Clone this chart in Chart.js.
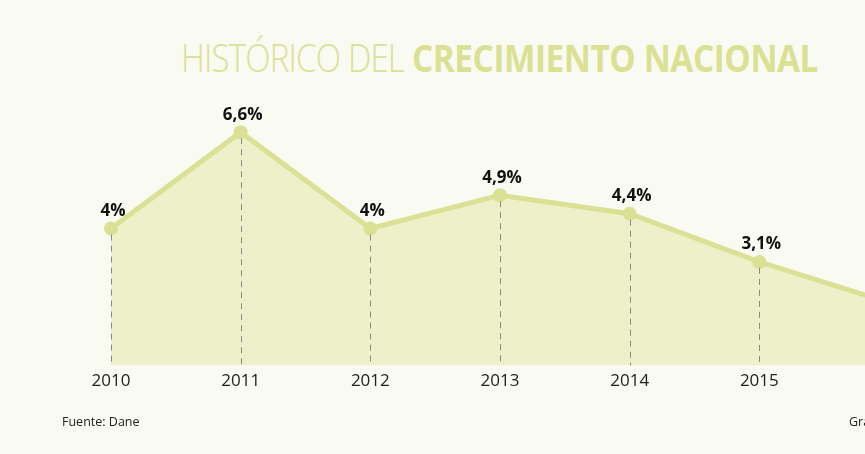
<!DOCTYPE html>
<html lang="es">
<head>
    <meta charset="UTF-8">
    <title>Histórico del crecimiento nacional</title>
    <style>
        body {
            margin: 0;
            width: 865px;
            height: 454px;
            overflow: hidden;
            background-color: #f9faf2;
            font-family: "Open Sans", sans-serif;
            position: relative;
        }
        .title {
            position: absolute;
            top: 31px;
            font-size: 38px;
            color: #dbe192;
            white-space: nowrap;
            transform-origin: left top;
        }
        .light { left: 181px; font-weight: 300; letter-spacing: -1px; }
        .bold { left: 412px; font-weight: 700; letter-spacing: -0.5px; }
        .chart-box {
            position: absolute;
            left: 0;
            top: 0;
            width: 1000px;
            height: 454px;
        }
        .note {
            position: absolute;
            top: 413px;
            font-size: 12.5px;
            color: #222;
            white-space: nowrap;
        }
    </style>
</head>
<body>
    <div class="title light" data-w="223">HISTÓRICO DEL</div>
    <div class="title bold" data-w="406">CRECIMIENTO NACIONAL</div>
    <div class="chart-box"><canvas id="growthChart"></canvas></div>
    <div class="note" style="left:62px">Fuente: Dane</div>
    <div class="note" style="left:849px">Gráfico: LR</div>

    <script src="https://cdn.jsdelivr.net/npm/chart.js"></script>
    <script>
        const years = ['2010', '2011', '2012', '2013', '2014', '2015', '2016'];
        const growth = [4, 6.6, 4, 4.9, 4.4, 3.1, 2.0];
        const valueLabels = ['4%', '6,6%', '4%', '4,9%', '4,4%', '3,1%', '2%'];

        const lineGreen = '#dbe194';
        const fillGreen = '#eef0c9';

        // squeeze the title pieces to the widths of the original lettering
        document.querySelectorAll('.title').forEach(el => {
            const w = el.getBoundingClientRect().width;
            el.style.transform = 'scaleX(' + (el.dataset.w / w) + ')';
        });

        // dashed drop lines and value labels on each point
        const pointExtras = {
            id: 'pointExtras',
            afterDatasetsDraw(chart) {
                const ctx = chart.ctx;
                const meta = chart.getDatasetMeta(0);
                const bottom = chart.chartArea.bottom;
                ctx.save();
                ctx.strokeStyle = '#8a8a80';
                ctx.lineWidth = 1;
                ctx.setLineDash([6, 5]);
                meta.data.forEach(pt => {
                    ctx.beginPath();
                    ctx.moveTo(Math.round(pt.x) + 0.5, pt.y + 6);
                    ctx.lineTo(Math.round(pt.x) + 0.5, bottom);
                    ctx.stroke();
                });
                ctx.setLineDash([]);
                ctx.fillStyle = '#111';
                ctx.font = 'bold 17px "Open Sans", sans-serif';
                ctx.textAlign = 'center';
                ctx.textBaseline = 'bottom';
                meta.data.forEach((pt, i) => {
                    ctx.fillText(valueLabels[i], pt.x + 2, pt.y - 9);
                });
                ctx.restore();
            }
        };

        window.onload = function() {
            const ctx = document.getElementById('growthChart').getContext('2d');
            new Chart(ctx, {
                type: 'line',
                data: {
                    labels: years,
                    datasets: [{
                        data: growth,
                        borderColor: lineGreen,
                        backgroundColor: fillGreen,
                        borderWidth: 5,
                        fill: 'start',
                        tension: 0,
                        pointRadius: 7,
                        pointBackgroundColor: lineGreen,
                        pointBorderWidth: 0,
                        clip: false
                    }]
                },
                options: {
                    responsive: true,
                    maintainAspectRatio: false,
                    animation: false,
                    layout: {
                        padding: { left: 111, right: 111, top: 110, bottom: 66 }
                    },
                    plugins: {
                        legend: { display: false },
                        tooltip: { enabled: false }
                    },
                    scales: {
                        x: {
                            offset: false,
                            grid: { display: false },
                            border: { display: false },
                            ticks: {
                                color: '#222',
                                padding: -3,
                                maxRotation: 0,
                                font: { family: '"Open Sans", sans-serif', size: 17 }
                            }
                        },
                        y: {
                            display: false,
                            min: 0.3,
                            max: 7.2
                        }
                    }
                },
                plugins: [pointExtras]
            });
        };
    </script>
</body>
</html>
